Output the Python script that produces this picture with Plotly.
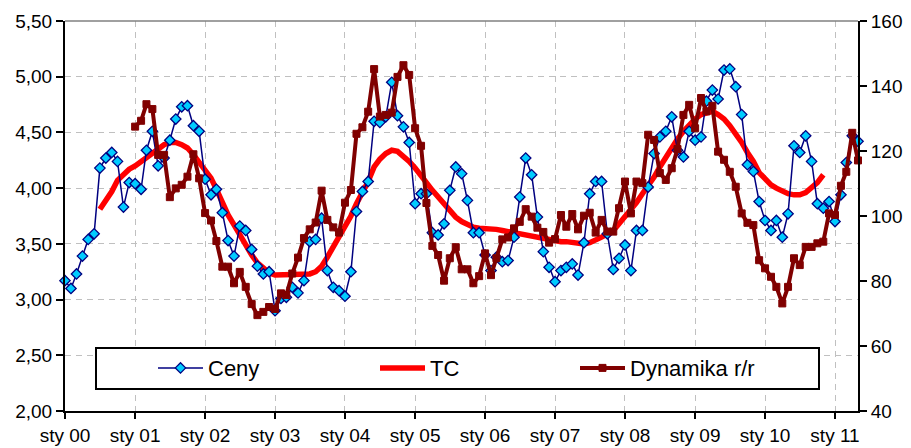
import pandas as pd
import plotly.graph_objects as go

# ---------------- data ----------------
ceny = [
    3.17, 3.10, 3.23, 3.39, 3.54, 3.59, 4.18, 4.27, 4.32, 4.24, 3.83, 4.05,
    4.04, 3.99, 4.34, 4.51, 4.20, 4.27, 4.43, 4.62, 4.73, 4.74, 4.56, 4.51,
    4.08, 3.94, 3.99, 3.78, 3.53, 3.39, 3.66, 3.62, 3.45, 3.30, 3.23, 3.25,
    2.90, 3.01, 3.02, 3.11, 3.06, 3.17, 3.52, 3.54, 3.73, 3.26, 3.11, 3.08,
    3.03, 3.25, 3.79, 3.97, 4.06, 4.60, 4.59, 4.64, 4.95, 4.65, 4.55, 4.41,
    3.86, 3.95, 3.95, 3.60, 3.58, 3.68, 3.98, 4.19, 4.13, 3.89, 3.60, 3.60,
    3.40, 3.26, 3.38, 3.34, 3.35, 3.56, 3.92, 4.27, 4.12, 3.74, 3.43, 3.29,
    3.16, 3.26, 3.29, 3.32, 3.22, 3.51, 3.95, 4.06, 4.06, 3.59, 3.27, 3.37,
    3.49, 3.26, 3.62, 3.62, 4.01, 4.31, 4.46, 4.51, 4.64, 4.34, 4.28, 4.51,
    4.43, 4.46, 4.78, 4.88, 4.80, 5.06, 5.07, 4.91, 4.66, 4.21, 4.15, 3.88,
    3.71, 3.62, 3.71, 3.56, 3.77, 4.38, 4.32, 4.47, 4.24, 3.86, 3.82, 3.88,
    3.70, 3.94, 4.23, 4.47, 4.42,
]

tc = [
    3.81, 3.89, 3.97, 4.07, 4.12, 4.17,
    4.20, 4.24, 4.27, 4.32, 4.36, 4.39, 4.41, 4.41, 4.39, 4.36, 4.30, 4.23,
    4.16, 4.09, 3.99, 3.86, 3.76, 3.67, 3.58, 3.49, 3.40, 3.33, 3.28, 3.24,
    3.22, 3.22, 3.22, 3.22, 3.22, 3.22, 3.23, 3.25, 3.30, 3.38, 3.47, 3.56,
    3.66, 3.75, 3.86, 3.96, 4.06, 4.19, 4.26, 4.31, 4.34, 4.33, 4.29, 4.24,
    4.18, 4.12, 4.05, 3.98, 3.92, 3.85, 3.79, 3.74, 3.70, 3.67, 3.65, 3.64,
    3.64, 3.63, 3.63, 3.62, 3.61, 3.60, 3.58, 3.57, 3.56, 3.56, 3.55, 3.54,
    3.53, 3.52, 3.52, 3.51, 3.50, 3.50, 3.51, 3.53, 3.56, 3.59, 3.62, 3.68,
    3.74, 3.80, 3.87, 3.95, 4.02, 4.10, 4.19, 4.28, 4.36, 4.44, 4.51, 4.57,
    4.62, 4.66, 4.68, 4.69, 4.66, 4.62, 4.56, 4.49, 4.41, 4.32, 4.24, 4.14,
    4.08, 4.03, 4.00, 3.97, 3.95, 3.94, 3.94, 3.96, 4.00, 4.05, 4.12,
]

dynamika = [
    127.5, 129.3, 134.4, 132.9, 118.8, 118.8, 105.8, 108.5, 109.6, 112.1, 119.0, 111.6,
    100.9, 98.6, 92.3, 84.4, 84.4, 79.3, 82.8, 78.2, 72.9, 69.5, 70.5, 72.0,
    71.4, 76.2, 75.7, 82.3, 87.2, 93.2, 95.9, 98.0, 107.8, 98.8, 96.5, 94.9,
    104.1, 108.0, 125.3, 127.3, 132.1, 145.2, 130.6, 131.1, 131.8, 142.8, 146.4, 143.4,
    127.0, 121.6, 104.0, 90.8, 88.0, 80.1, 87.0, 90.4, 83.6, 83.6, 79.3, 81.5,
    88.5, 81.8, 87.0, 92.8, 93.4, 96.2, 98.2, 102.1, 99.8, 96.4, 95.1, 91.8,
    92.9, 100.3, 96.7, 100.6, 95.9, 100.1, 101.0, 94.9, 98.8, 95.2, 95.2, 102.4,
    110.6, 100.8, 110.6, 110.1, 125.0, 123.4, 113.2, 111.1, 114.7, 120.6, 131.1, 134.2,
    127.0, 136.3, 132.2, 133.9, 119.8, 117.3, 113.6, 109.0, 100.8, 97.9, 97.2, 86.4,
    83.9, 81.3, 78.2, 73.1, 78.2, 87.0, 84.9, 90.5, 90.5, 91.6, 92.1, 100.8,
    100.3, 109.3, 113.6, 125.6, 117.1,
]

tick_labels = ["sty 00", "sty 01", "sty 02", "sty 03", "sty 04", "sty 05",
               "sty 06", "sty 07", "sty 08", "sty 09", "sty 10", "sty 11"]
series_names = ["Ceny", "TC", "Dynamika r/r"]

months = pd.date_range("2000-01-01", periods=len(ceny), freq="MS")
tc_x = months[6:6 + len(tc)]
dyn_x = months[12:12 + len(dynamika)]
tick_vals = pd.date_range("2000-01-01", periods=len(tick_labels), freq="YS")

FONT = "Liberation Sans, Arial, sans-serif"

fig = go.Figure()

fig.add_trace(go.Scatter(
    x=tc_x, y=tc, name=series_names[1], mode="lines",
    line=dict(color="#FF0000", width=5.5),
    yaxis="y", legend="legend2", cliponaxis=False,
))
fig.add_trace(go.Scatter(
    x=months, y=ceny, name=series_names[0], mode="lines+markers",
    line=dict(color="#000080", width=1.5),
    marker=dict(symbol="diamond", size=8, color="#00CCFF",
                line=dict(color="#000080", width=1.3)),
    yaxis="y", legend="legend", cliponaxis=False,
))
fig.add_trace(go.Scatter(
    x=dyn_x, y=dynamika, name=series_names[2], mode="lines+markers",
    line=dict(color="#800000", width=4),
    marker=dict(symbol="square", size=7, color="#800000",
                line=dict(color="#800000", width=1)),
    yaxis="y2", legend="legend3", cliponaxis=False,
))

grid = dict(showgrid=True, gridcolor="#C0C0C0", gridwidth=1, griddash="6px,5px")

legend_common = dict(
    orientation="h", yanchor="middle", y=0.11, xanchor="left",
    bgcolor="rgba(0,0,0,0)", borderwidth=0,
    font=dict(family=FONT, size=22, color="black"), itemwidth=45,
)

fig.update_layout(
    width=911, height=448,
    margin=dict(l=65, r=53, t=21, b=37, pad=0, autoexpand=False),
    paper_bgcolor="white", plot_bgcolor="white",
    separators=", ",
    showlegend=True,
    font=dict(family=FONT, size=19, color="black"),
    xaxis=dict(
        type="date", range=["2000-01-01", "2011-05-01"],
        tickvals=tick_vals, ticktext=tick_labels, automargin=False,
        ticks="outside", ticklen=6, tickwidth=1.5, tickcolor="black",
        showline=True, linecolor="black", linewidth=2,
        zeroline=False, **grid,
    ),
    yaxis=dict(
        range=[2.0, 5.5], dtick=0.5, tick0=2.0, tickformat=".2f", automargin=False,
        ticks="outside", ticklen=7, tickwidth=1.5, tickcolor="black",
        showline=True, linecolor="black", linewidth=2,
        zeroline=False, **grid,
    ),
    yaxis2=dict(
        range=[40, 160], dtick=20, tick0=40, overlaying="y", side="right",
        automargin=False,
        ticks="outside", ticklen=7, tickwidth=1.5, tickcolor="black",
        showline=True, linecolor="black", linewidth=2,
        showgrid=False, zeroline=False,
    ),
    yaxis3=dict(
        range=[40, 160], dtick=20, tick0=40, overlaying="y", side="right",
        anchor="x", automargin=False,
        ticks="inside", ticklen=6, tickwidth=1.5, tickcolor="black",
        showticklabels=False, showline=False, showgrid=False, zeroline=False,
    ),
    legend=dict(x=(153 - 65) / 793, **legend_common),
    legend2=dict(x=(375 - 65) / 793, **legend_common),
    legend3=dict(x=(575 - 65) / 793, **legend_common),
    shapes=[
        dict(type="line", xref="paper", yref="paper", x0=0, x1=1, y0=1, y1=1,
             line=dict(color="#808080", width=1.5), layer="above"),
        dict(type="rect", xref="paper", yref="paper",
             x0=(96 - 65) / 793, x1=(819 - 65) / 793,
             y0=(411 - 389) / 390, y1=(411 - 348) / 390,
             line=dict(color="black", width=2), fillcolor="white", layer="above"),
    ],
)

fig.write_html("out.html")
